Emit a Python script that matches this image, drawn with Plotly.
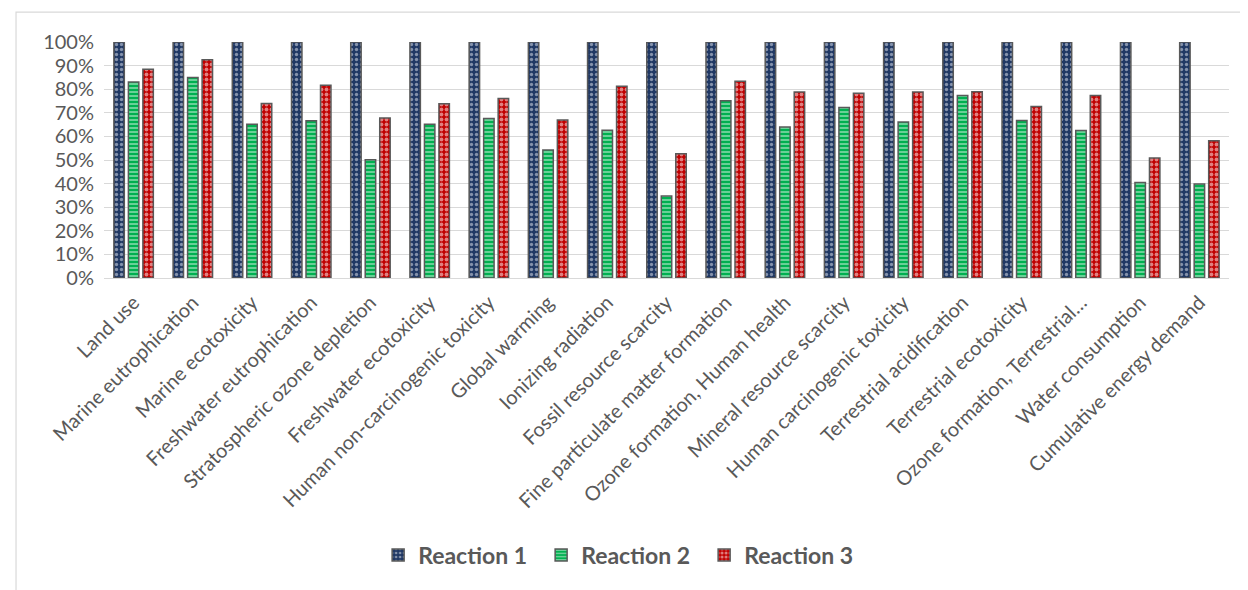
import plotly.graph_objects as go

categories = [
    "Land use", "Marine eutrophication", "Marine ecotoxicity", "Freshwater eutrophication",
    "Stratospheric ozone depletion", "Freshwater ecotoxicity", "Human non-carcinogenic toxicity",
    "Global warming", "Ionizing radiation", "Fossil resource scarcity",
    "Fine particulate matter formation", "Ozone formation, Human health",
    "Mineral resource scarcity", "Human carcinogenic toxicity", "Terrestrial acidification",
    "Terrestrial ecotoxicity", "Ozone formation, Terrestrial…", "Water consumption",
    "Cumulative energy demand",
]
reaction1 = [1.0] * 19
reaction2 = [0.830, 0.850, 0.652, 0.666, 0.501, 0.652, 0.676, 0.542, 0.626, 0.347,
             0.751, 0.640, 0.722, 0.661, 0.773, 0.667, 0.625, 0.405, 0.398]
reaction3 = [0.885, 0.925, 0.739, 0.817, 0.678, 0.738, 0.761, 0.670, 0.812, 0.527,
             0.834, 0.788, 0.783, 0.788, 0.789, 0.727, 0.773, 0.508, 0.582]
series_names = ["Reaction 1", "Reaction 2", "Reaction 3"]
y_ticks = [i / 10 for i in range(11)]

FONT = "Lato"
GRAY = "#595959"
outline = dict(color="#595959", width=1.5)

fig = go.Figure()
fig.add_trace(go.Bar(
    x=categories, y=reaction1, name=series_names[0],
    marker=dict(color="#203864", line=outline,
                pattern=dict(shape=".", fgcolor="#e8ecf2", bgcolor="#203864",
                             size=5, solidity=0.35, fillmode="overlay")),
))
fig.add_trace(go.Bar(
    x=categories, y=reaction2, name=series_names[1],
    marker=dict(color="#00b050", line=outline,
                pattern=dict(shape="-", fgcolor="#e9f7ee", bgcolor="#00b050",
                             size=4, solidity=0.45, fillmode="overlay")),
))
fig.add_trace(go.Bar(
    x=categories, y=reaction3, name=series_names[2],
    marker=dict(color="#c00000", line=outline,
                pattern=dict(shape=".", fgcolor="#ffffff", bgcolor="#c00000",
                             size=5, solidity=0.45, fillmode="overlay")),
))

# page body has an 8px margin, so the figure is shifted by 8px
fig.update_layout(
    width=1240, height=582,
    margin=dict(l=96, r=19, t=34, b=312),
    paper_bgcolor="white", plot_bgcolor="white",
    barmode="group", bargap=0.265, bargroupgap=0.28,
    font=dict(family=FONT, color=GRAY),
    showlegend=True,
    legend=dict(orientation="h", x=0.461, xanchor="center", y=-1.174, yanchor="middle",
                font=dict(family=FONT, size=23, color=GRAY, weight="bold"),
                entrywidth=118, entrywidthmode="pixels", traceorder="normal"),
    xaxis=dict(tickangle=-45, tickfont=dict(size=20, color=GRAY), showgrid=False,
               showline=False, ticks="", ticklen=0, ticklabelstandoff=8),
    yaxis=dict(range=[0, 1], tickvals=y_ticks, tickformat=".0%",
               tickfont=dict(size=20, color=GRAY), showgrid=True, gridcolor="#d9d9d9",
               gridwidth=1.3, zeroline=True, zerolinecolor="#d9d9d9", zerolinewidth=1.3,
               showline=False, ticks="", fixedrange=True, ticklabelstandoff=9),
    shapes=[dict(type="rect", xref="paper", yref="paper", x0=-0.0782, x1=2, y0=-3,
                 y1=1.127, line=dict(color="#d9d9d9", width=1.2), fillcolor="rgba(0,0,0,0)",
                 layer="below")],
)

fig.write_html("out.html")
